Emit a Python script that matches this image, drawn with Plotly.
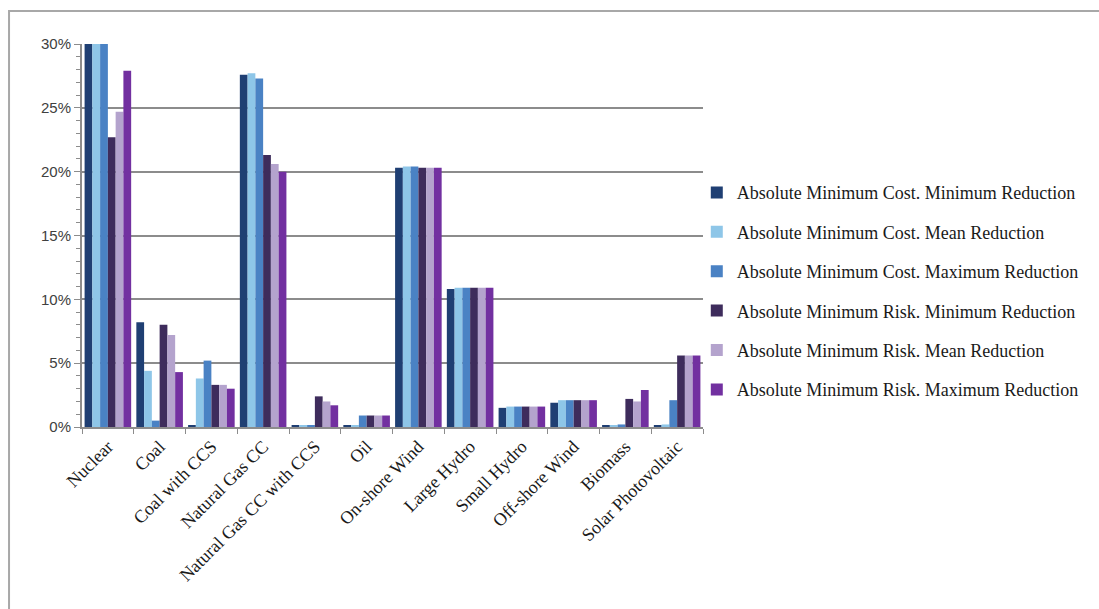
import plotly.graph_objects as go

categories = ["Nuclear", "Coal", "Coal with CCS", "Natural Gas CC", "Natural Gas CC with CCS",
              "Oil", "On-shore Wind", "Large Hydro", "Small Hydro", "Off-shore Wind",
              "Biomass", "Solar Photovoltaic"]

series_names = [
    "Absolute Minimum Cost. Minimum Reduction",
    "Absolute Minimum Cost. Mean Reduction",
    "Absolute Minimum Cost. Maximum Reduction",
    "Absolute Minimum Risk. Minimum Reduction",
    "Absolute Minimum Risk. Mean Reduction",
    "Absolute Minimum Risk. Maximum Reduction",
]

cost_min = [30.0, 8.2, 0.1, 27.6, 0.1, 0.1, 20.3, 10.8, 1.5, 1.9, 0.1, 0.1]
cost_mean = [30.0, 4.4, 3.8, 27.7, 0.1, 0.1, 20.4, 10.9, 1.6, 2.1, 0.1, 0.2]
cost_max = [30.0, 0.5, 5.2, 27.3, 0.1, 0.9, 20.4, 10.9, 1.6, 2.1, 0.2, 2.1]
risk_min = [22.7, 8.0, 3.3, 21.3, 2.4, 0.9, 20.3, 10.9, 1.6, 2.1, 2.2, 5.6]
risk_mean = [24.7, 7.2, 3.3, 20.6, 2.0, 0.9, 20.3, 10.9, 1.6, 2.1, 2.0, 5.6]
risk_max = [27.9, 4.3, 3.0, 20.0, 1.7, 0.9, 20.3, 10.9, 1.6, 2.1, 2.9, 5.6]

colors = ["#1F3F73", "#8EC6E8", "#4A82C4", "#3E2C5C", "#B4A3CD", "#7230A0"]

y_ticks = [0, 5, 10, 15, 20, 25, 30]
y_labels = ["0%", "5%", "10%", "15%", "20%", "25%", "30%"]

fig = go.Figure()
for i, (name, vals) in enumerate(zip(series_names,
                                     [cost_min, cost_mean, cost_max, risk_min, risk_mean, risk_max])):
    fig.add_trace(go.Bar(
        x=categories, y=vals, name=name, marker=dict(color=colors[i], line=dict(width=0)),
        legendgroup=f"g{i}",
    ))

fig.update_layout(
    width=1099, height=609,
    margin=dict(l=82, r=396, t=44, b=182),
    paper_bgcolor="white", plot_bgcolor="white",
    barmode="group", bargap=0.1, bargroupgap=0.0,
    showlegend=True,
    legend=dict(
        x=0.99, xanchor="left", y=0.66, yanchor="top",
        font=dict(family="Liberation Serif", size=18, color="#1a1a1a"),
        tracegroupgap=13, itemwidth=30, bgcolor="rgba(0,0,0,0)",
    ),
    xaxis=dict(
        tickangle=-45, tickfont=dict(family="Liberation Serif", size=18, color="#1a1a1a"),
        showline=True, linecolor="#8c8c8c", linewidth=2,
        ticks="outside", ticklen=5, tickcolor="#8c8c8c", tickson="boundaries",
        showgrid=False,
    ),
    yaxis=dict(
        range=[0, 30], tickmode="array", tickvals=y_ticks, ticktext=y_labels,
        tickfont=dict(family="Liberation Sans", size=15, color="#404040"),
        showline=True, linecolor="#8c8c8c", linewidth=2,
        ticks="outside", ticklen=6, tickcolor="#8c8c8c",
        minor=dict(dtick=1, ticks="outside", ticklen=4, tickcolor="#8c8c8c", showgrid=False),
        showgrid=True, gridcolor="#8c8c8c", gridwidth=2,
        zeroline=False,
    ),
    shapes=[dict(type="rect", xref="paper", yref="paper",
                 x0=-0.1175, x1=1.8, y0=-0.6, y1=1.086,
                 line=dict(color="#a8a8a8", width=2), fillcolor="rgba(0,0,0,0)", layer="below")],
)

fig.write_html("out.html")
